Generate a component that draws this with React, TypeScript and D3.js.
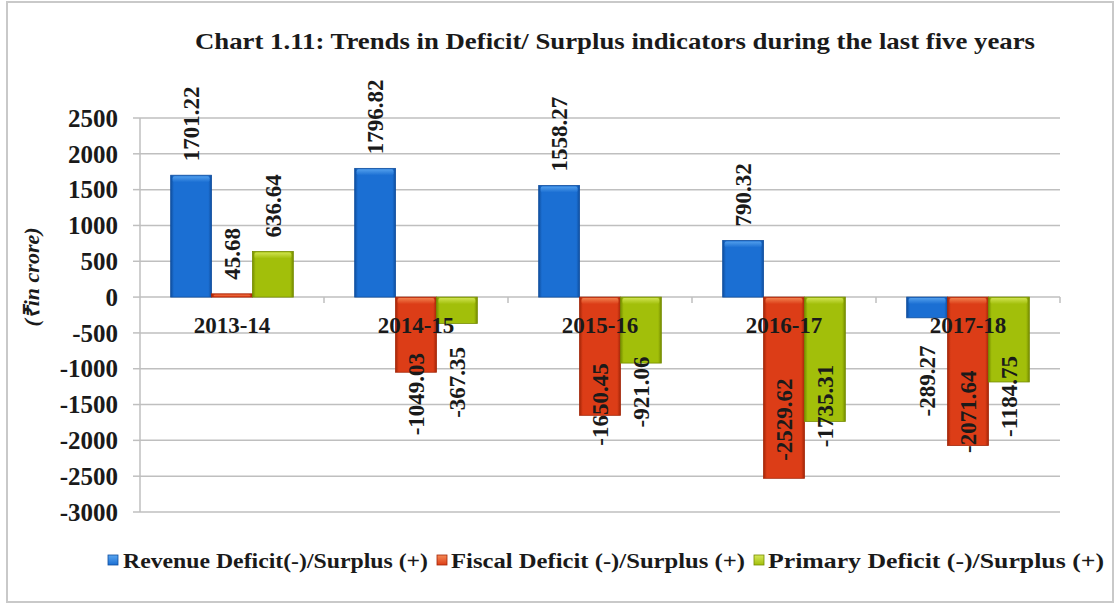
import React from "react";
import * as d3 from "d3";

const categories = ["2013-14", "2014-15", "2015-16", "2016-17", "2017-18"];
const seriesNames = [
  "Revenue Deficit(-)/Surplus (+)",
  "Fiscal Deficit (-)/Surplus (+)",
  "Primary Deficit (-)/Surplus (+)",
];
const revenue = [1701.22, 1796.82, 1558.27, 790.32, -289.27];
const fiscal = [45.68, -1049.03, -1650.45, -2529.62, -2071.64];
const primary = [636.64, -367.35, -921.06, -1735.31, -1184.75];
const yTicks = [2500, 2000, 1500, 1000, 500, 0, -500, -1000, -1500, -2000, -2500, -3000];

const title = "Chart 1.11: Trends in Deficit/ Surplus indicators during the last five years";
const yLabel = "(\u20B9in crore)";

const palette = [
  { base: "#1b6fd3", light: "#5aa6f0", dark: "#0f4e9e" },
  { base: "#dc3d17", light: "#f58a55", dark: "#a42608" },
  { base: "#a2bf0a", light: "#d6e85a", dark: "#758c00" },
];

const FONT = "'Liberation Serif', 'Times New Roman', serif";

export default function App() {
  const W = 1116;
  const H = 607;
  const left = 140;
  const right = 1060;
  const top = 118;
  const bottom = 512;

  const series = [revenue, fiscal, primary];

  const x = d3.scaleBand<string>().domain(categories).range([left, right]).paddingInner(0).paddingOuter(0);
  const y = d3.scaleLinear().domain([-3000, 2500]).range([bottom, top]);
  const barW = x.bandwidth() / 4.5;
  const groupOffset = barW * 0.75;
  const barX = (ci: number, si: number) => (x(categories[ci]) as number) + groupOffset + si * barW;

  const y0 = y(0);

  const legendItems = [
    { sq: 108, tx: 123, len: 305 },
    { sq: 437, tx: 451, len: 294 },
    { sq: 754, tx: 768, len: 336 },
  ];

  return (
    <svg width={W} height={H} style={{ position: "absolute", left: 0, top: 0, background: "#fff" }} fontFamily={FONT}>
      <defs>
        {palette.map((p, i) => (
          <linearGradient key={i} id={`g${i}`} x1="0" x2="1" y1="0" y2="0">
            <stop offset="0" stopColor={p.dark} />
            <stop offset="0.08" stopColor={p.base} />
            <stop offset="0.92" stopColor={p.base} />
            <stop offset="1" stopColor={p.dark} />
          </linearGradient>
        ))}
        {palette.map((p, i) => (
          <linearGradient key={`h${i}`} id={`h${i}`} x1="0" x2="0" y1="0" y2="1">
            <stop offset="0" stopColor={p.light} />
            <stop offset="1" stopColor={p.base} />
          </linearGradient>
        ))}
      </defs>

      <rect x={7} y={2} width={1106} height={600} fill="#fff" stroke="#c9c9c9" strokeWidth={2} />

      <text x={615} y={49} textAnchor="middle" fontSize={24} fontWeight="bold" fill="#1a1a1a" textLength={840} lengthAdjust="spacingAndGlyphs">
        {title}
      </text>

      {/* gridlines */}
      {yTicks.map((t) => (
        <g key={t}>
          <line x1={left} x2={right} y1={y(t)} y2={y(t)} stroke="#bfbfbf" strokeWidth={1.5} />
          <line x1={left - 7} x2={left} y1={y(t)} y2={y(t)} stroke="#bfbfbf" strokeWidth={1.5} />
          <text x={118} y={y(t)} dy="0.35em" textAnchor="end" fontSize={25} fontWeight="bold" fill="#1a1a1a">
            {t}
          </text>
        </g>
      ))}
      <line x1={left} x2={left} y1={top} y2={bottom} stroke="#bfbfbf" strokeWidth={1.5} />
      {categories.map((c, i) => (
        <line key={c} x1={(x(c) as number) + x.bandwidth()} x2={(x(c) as number) + x.bandwidth()} y1={y0} y2={y0 + 6} stroke="#bfbfbf" strokeWidth={1.5} />
      ))}

      <text transform={`translate(31,277) rotate(-90)`} textAnchor="middle" dy="0.35em" fontSize={22} fontWeight="bold" fontStyle="italic" fill="#1a1a1a">
        {yLabel}
      </text>

      {/* bars */}
      {series.map((vals, si) =>
        vals.map((v, ci) => {
          const bx = barX(ci, si);
          const yt = Math.min(y(v), y0);
          const h = Math.abs(y(v) - y0);
          const hl = Math.min(6, h / 2);
          return (
            <g key={`${si}-${ci}`}>
              <rect x={bx} y={yt} width={barW} height={h} fill={`url(#g${si})`} stroke={palette[si].dark} strokeWidth={0.8} />
              <rect x={bx + 2} y={yt + 1} width={barW - 4} height={hl} rx={2} fill={`url(#h${si})`} opacity={0.85} />
            </g>
          );
        })
      )}

      {/* category labels */}
      {categories.map((c) => (
        <text key={c} x={(x(c) as number) + x.bandwidth() / 2} y={333} textAnchor="middle" fontSize={23} fontWeight="bold" fill="#1a1a1a">
          {c}
        </text>
      ))}

      {/* value labels */}
      {series.map((vals, si) =>
        vals.map((v, ci) => {
          const cx = barX(ci, si) + barW / 2;
          const label = v.toFixed(2);
          if (v >= 0) {
            return (
              <text key={`l${si}-${ci}`} transform={`translate(${cx},${y(v) - 14}) rotate(-90)`} textAnchor="start" dy="0.35em" fontSize={23} fontWeight="bold" fill="#1a1a1a">
                {label}
              </text>
            );
          }
          const cy = y(v * 0.24) + 79;
          return (
            <text key={`l${si}-${ci}`} transform={`translate(${cx},${cy}) rotate(-90)`} textAnchor="middle" dy="0.35em" fontSize={23} fontWeight="bold" fill="#1a1a1a">
              {label}
            </text>
          );
        })
      )}

      {/* legend */}
      {legendItems.map((it, i) => (
        <g key={i}>
          <rect x={it.sq} y={555} width={10} height={10} fill={`url(#h${i})`} stroke={palette[i].dark} strokeWidth={0.8} />
          <text x={it.tx} y={561} dy="0.35em" fontSize={20} fontWeight="bold" fill="#1a1a1a" textLength={it.len} lengthAdjust="spacingAndGlyphs">
            {seriesNames[i]}
          </text>
        </g>
      ))}
    </svg>
  );
}
